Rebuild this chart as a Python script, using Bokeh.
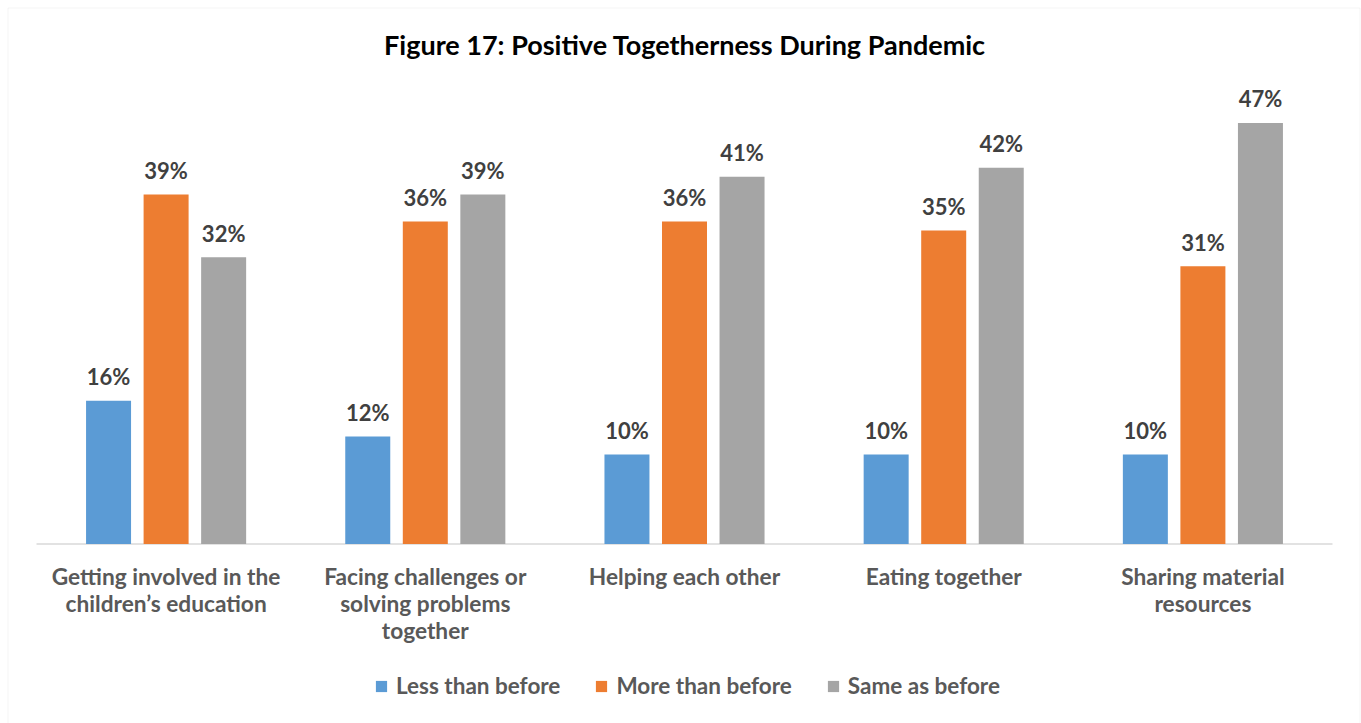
from bokeh.plotting import figure
from bokeh.models import Range1d, Label, BoxAnnotation, ColumnDataSource
from bokeh.transform import dodge
from bokeh.core.properties import value
from bokeh.embed import file_html
from bokeh.resources import INLINE

# --- data ---
categories = [
    "Getting involved in the\nchildren\u2019s education",
    "Facing challenges or\nsolving problems\ntogether",
    "Helping each other",
    "Eating together",
    "Sharing material\nresources",
]
series_names = ["Less than before", "More than before", "Same as before"]
less_than_before = [16, 12, 10, 10, 10]
more_than_before = [39, 36, 36, 35, 31]
same_as_before = [32, 39, 41, 42, 47]

title_text = "Figure 17: Positive Togetherness During Pandemic"

# --- layout helpers (pixel -> data coordinates) ---
W, H = 1361, 723
BASE_PX = 543.5      # pixel row of the zero line
PX_PER_PCT = 8.96    # vertical scale
X0_PX = 36           # left edge of the first category slot
SLOT_PX = 259.2      # width of one category slot


def px2x(px):
    return (px - X0_PX) / SLOT_PX - 0.5


def px2y(py):
    return (BASE_PX - py) / PX_PER_PCT


FONT = value("Lato")
colors = ["#5B9BD5", "#ED7D31", "#A5A5A5"]
offsets = [-0.222, 0.0, 0.222]
bar_w = 45 / SLOT_PX

src = ColumnDataSource(dict(
    x=list(range(len(categories))),
    cat=categories,
    less=less_than_before,
    more=more_than_before,
    same=same_as_before,
    less_lbl=[f"{v}%" for v in less_than_before],
    more_lbl=[f"{v}%" for v in more_than_before],
    same_lbl=[f"{v}%" for v in same_as_before],
))

p = figure(
    width=W, height=H,
    x_range=Range1d(px2x(0), px2x(W)),
    y_range=Range1d(px2y(H), px2y(0)),
    output_backend="svg", toolbar_location=None,
    min_border=0, x_axis_type=None, y_axis_type=None,
)
p.grid.visible = False
p.outline_line_color = None
p.background_fill_color = "white"
p.border_fill_color = "white"

# chart border
p.add_layout(BoxAnnotation(
    left=px2x(7.5), right=px2x(1359.5), top=px2y(7.5), bottom=px2y(3000),
    fill_color=None, fill_alpha=0, line_color="#d9d9d9", line_width=1,
))

# category axis line
p.segment(x0=-0.5, y0=0, x1=len(categories) - 0.5, y1=0,
          line_color="#d9d9d9", line_width=1.5)

cols = ["less", "more", "same"]
for name, col, color, off in zip(series_names, cols, colors, offsets):
    p.vbar(x=dodge("x", off), top=col, width=bar_w, source=src,
           fill_color=color, line_color=None, legend_label=name)
    p.text(x=dodge("x", off), y=col, text=col + "_lbl", source=src,
           text_align="center", text_baseline="alphabetic", y_offset=-24,
           text_font=FONT, text_font_style="bold", text_font_size="22px",
           text_color="#404040")

# category labels under the axis
p.text(x="x", y=0, text="cat", source=src, text_align="center",
       text_baseline="top", y_offset=19, text_line_height=1.0,
       text_font=FONT, text_font_style="bold", text_font_size="22.7px",
       text_color="#595959")

# title
p.add_layout(Label(
    x=px2x(684.5), y=px2y(43.5), text=title_text,
    text_align="center", text_baseline="alphabetic",
    text_font="Lato", text_font_style="bold", text_font_size="27px",
    text_color="#000000",
))

# legend
lg = p.legend[0]
lg.orientation = "horizontal"
lg.location = (374, 24)
lg.padding = 0
lg.margin = 0
lg.spacing = 34
lg.glyph_width = 14
lg.glyph_height = 14
lg.label_standoff = 8
lg.label_height = 14
lg.label_text_font = "Lato"
lg.label_text_font_style = "bold"
lg.label_text_font_size = "22.5px"
lg.label_text_color = "#595959"
lg.border_line_color = None
lg.background_fill_alpha = 0

open("out.html", "w").write(file_html(p, INLINE))
